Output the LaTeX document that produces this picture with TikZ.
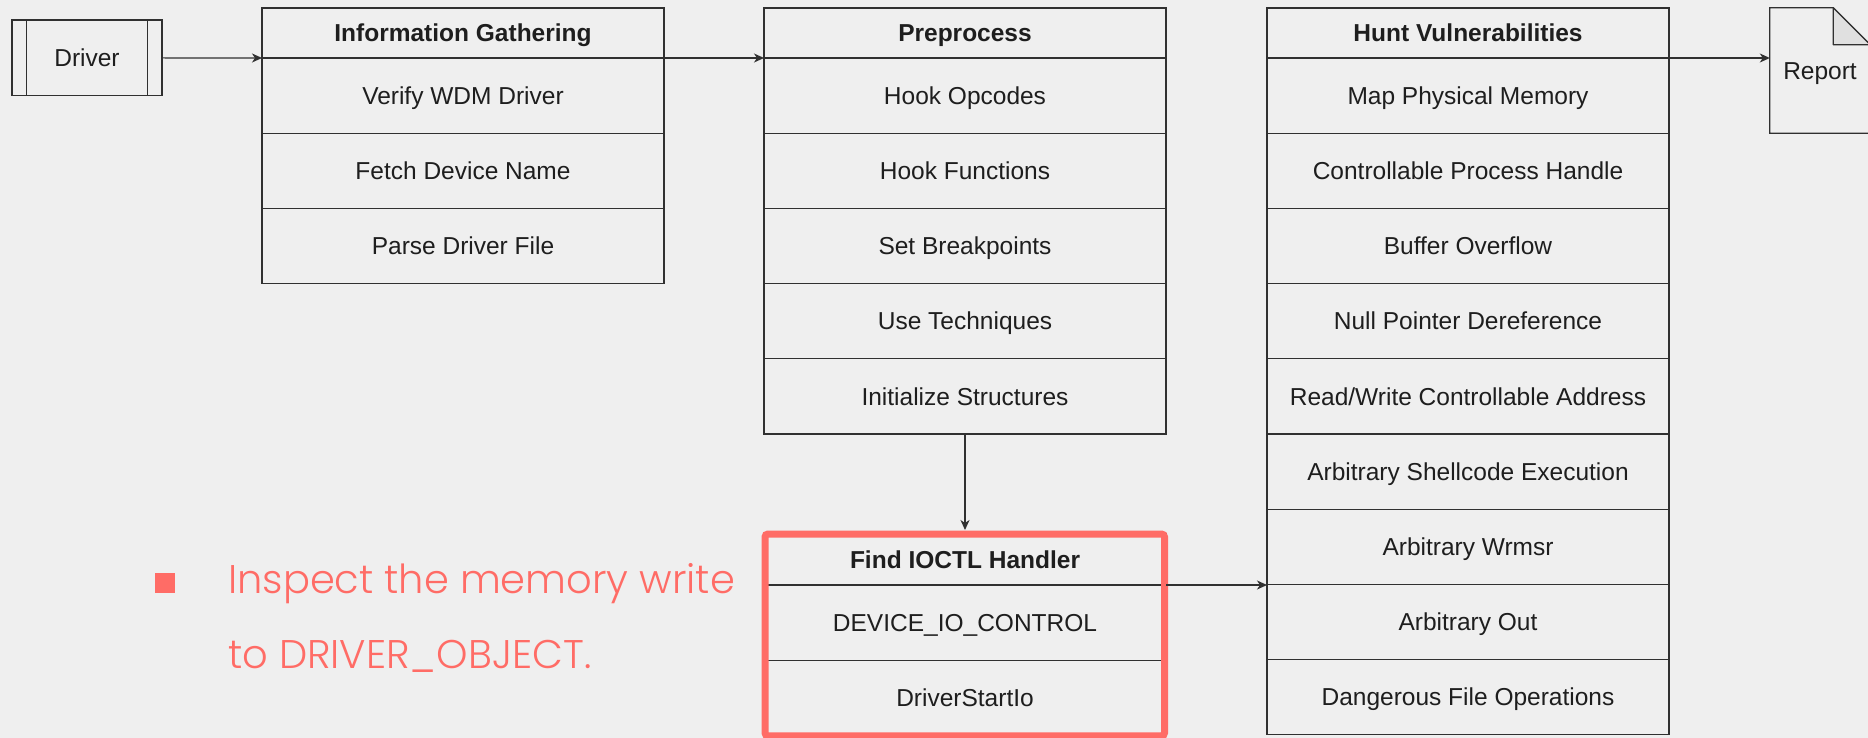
\documentclass[tikz,border=0pt]{standalone}
\usepackage{fontspec}
\setmainfont{Liberation Sans}
\newfontfamily\notefont{Poppins}[UprightFont={* Light}]
\usetikzlibrary{arrows.meta}

\definecolor{bg}{HTML}{EFEFEF}
\definecolor{ln}{HTML}{303030}
\definecolor{txt}{HTML}{1E1E1E}
\definecolor{salmon}{RGB}{255,108,102}
\definecolor{foldgray}{HTML}{E0E0E0}

\begin{document}
\begin{tikzpicture}[x=1pt,y=-1pt,
  cell/.style={draw=ln, line width=1.2pt, minimum width=402pt, minimum height=75.2pt,
    inner sep=0pt, outer sep=0pt, anchor=north west, text=txt,
    text height=17.5pt, text depth=0pt,
    font=\fontsize{24.5}{29}\selectfont},
  head/.style={cell, minimum height=50pt, font=\fontsize{24.5}{29}\selectfont\bfseries},
  link/.style={draw=ln, line width=1.2pt, -{Stealth[length=10pt,width=9pt,inset=3pt]}},
  redframe/.style={draw=salmon, line width=7pt, rounded corners=3pt},
  note/.style={text=salmon, anchor=base west, inner sep=0pt, font=\notefont\fontsize{40}{48}\selectfont}]

% canvas
\fill[bg] (0,0) rectangle (1868,738);
\useasboundingbox (0,0) rectangle (1868,738);

% input driver (process box with side bars)
\node[draw=ln, line width=1.2pt, minimum width=150pt, minimum height=75.7pt, inner sep=0pt,
  text height=17.5pt, text depth=0pt,
  text=txt, font=\fontsize{24.5}{29}\selectfont] (drv) at (87,57.9) {Driver};
\draw[ln, line width=1.2pt] ([xshift=14.8pt]drv.north west) -- ([xshift=14.8pt]drv.south west);
\draw[ln, line width=1.2pt] ([xshift=-14.8pt]drv.north east) -- ([xshift=-14.8pt]drv.south east);

% information gathering
\node[head] (ig0) at (262,8) {Information Gathering};
\foreach \t [count=\i from 1, evaluate=\i as \yy using 58+(\i-1)*75.2] in
  {Verify WDM Driver, Fetch Device Name, Parse Driver File}
  \node[cell] (ig\i) at (262,\yy) {\t};

% preprocess
\node[head] (pp0) at (764,8) {Preprocess};
\foreach \t [count=\i from 1, evaluate=\i as \yy using 58+(\i-1)*75.2] in
  {Hook Opcodes, Hook Functions, Set Breakpoints, Use Techniques, Initialize Structures}
  \node[cell] (pp\i) at (764,\yy) {\t};

% ioctl handler discovery
\node[head, minimum height=51pt] (fi0) at (764,534) {Find IOCTL Handler};
\node[cell] (fi1) at (764,585) {DEVICE\_IO\_CONTROL};
\node[cell] (fi2) at (764,660.2) {DriverStartIo};

% vulnerability hunting
\node[head] (hv0) at (1267,8) {Hunt Vulnerabilities};
\foreach \t [count=\i from 1, evaluate=\i as \yy using 58+(\i-1)*75.2] in
  {Map Physical Memory, Controllable Process Handle, Buffer Overflow,
   Null Pointer Dereference, Read/Write Controllable Address,
   Arbitrary Shellcode Execution, Arbitrary Wrmsr, Arbitrary Out,
   Dangerous File Operations}
  \node[cell] (hv\i) at (1267,\yy) {\t};

% report document
\node[minimum width=100pt, minimum height=125pt, inner sep=0pt] (rep) at (1820,70.5) {};
\draw[ln, line width=1.2pt, fill=bg] (rep.north west) -- ([xshift=-37pt]rep.north east)
  -- ([yshift=-37pt]rep.north east) -- (rep.south east) -- (rep.south west) -- cycle;
\draw[ln, line width=1.2pt, fill=foldgray, line join=round] ([xshift=-37pt]rep.north east)
  -- ([xshift=-37pt,yshift=-37pt]rep.north east) -- ([yshift=-37pt]rep.north east) -- cycle;
\node[text=txt, font=\fontsize{24.5}{29}\selectfont, inner sep=0pt,
  text height=17.5pt, text depth=0pt] (reptxt) at (rep) {Report};

% highlight frame
\draw[redframe] ([xshift=1pt]fi0.north west) rectangle ([xshift=-1.5pt,yshift=-0.5pt]fi2.south east);

% connectors
\draw[link] (drv.east) -- (ig0.south west);
\draw[link] (ig0.south east) -- (pp0.south west);
\draw[link] (pp5.south) -- ([yshift=4pt]fi0.north);
\draw[link] (fi0.south east) -- (fi0.south east -| hv0.west);
\draw[link] (hv0.south east) -- (hv0.south east -| rep.west);

% note
\node[fill=salmon, minimum size=20pt, inner sep=0pt] (bul) at (165,583) {};
\node[note] (n1) at (228,593) {Inspect the memory write};
\node[note] (n2) at (228,668) {to DRIVER\_OBJECT.};
\end{tikzpicture}
\end{document}
